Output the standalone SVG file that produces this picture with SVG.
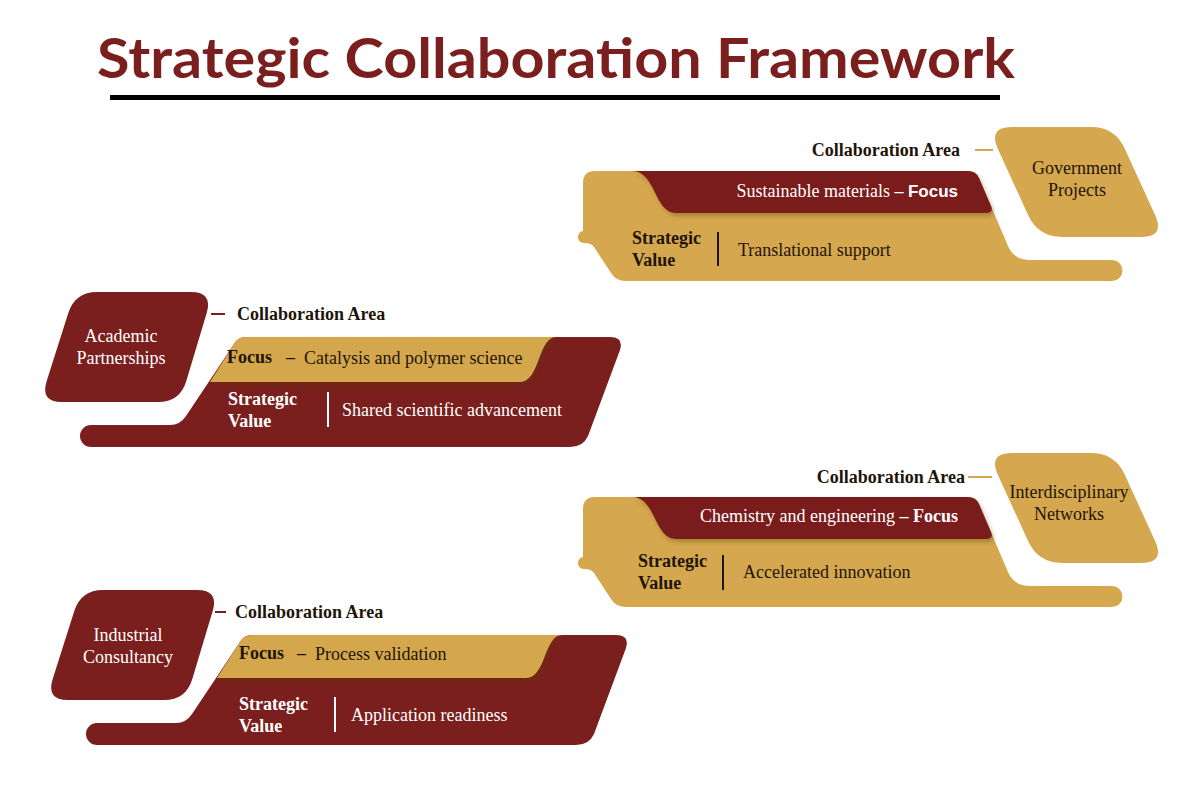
<svg xmlns="http://www.w3.org/2000/svg" width="1200" height="800" viewBox="0 0 1200 800">
<defs>
<style>
.red{fill:#7A1F1D}
.gold{fill:#D5A74E}
.t{font-family:"Liberation Serif","Times New Roman",serif;font-size:18px}
.b{font-weight:bold}
.w{fill:#FFFFFF}
.k{fill:#1E1408}
.ctr{text-anchor:middle}
.end{text-anchor:end}
.sans{font-family:"Liberation Sans",Arial,sans-serif;font-weight:bold;font-size:17px}
.conn{stroke-width:2;fill:none}
</style>
<filter id="sh" x="-5%" y="-20%" width="110%" height="150%">
<feDropShadow dx="2" dy="3" stdDeviation="2" flood-color="#5a3a10" flood-opacity="0.35"/>
</filter>
</defs>
<rect width="1200" height="800" fill="#FFFFFF"/>

<g id="title">
<text x="97" y="78" font-family="Lato, 'Liberation Sans', sans-serif" font-weight="bold" font-size="56" textLength="918" lengthAdjust="spacingAndGlyphs" fill="#7B1F1E">Strategic Collaboration Framework</text>
<rect x="110" y="95" width="890" height="5" fill="#000000"/>
</g>

<g id="connectors">
<line x1="975" y1="150" x2="993" y2="150" stroke="#D5A74E" class="conn"/>
<line x1="211" y1="314" x2="225" y2="314" stroke="#7A1F1D" class="conn"/>
<line x1="968" y1="477" x2="992" y2="477" stroke="#D5A74E" class="conn"/>
<line x1="215" y1="612" x2="226" y2="612" stroke="#7A1F1D" class="conn"/>
</g>

<!-- Government Projects -->
<g id="node-government">
<path class="gold" d="M1012,127 L1091,127 Q1115,127 1124.9,148.9 L1155.1,215.1 Q1165,237 1141,237 L1062,237 Q1038,237 1028.1,215.1 L997.9,148.9 Q988,127 1012,127 Z"/>
<text class="t k ctr" x="1077" y="174">Government</text>
<text class="t k ctr" x="1077" y="196">Projects</text>
</g>
<g id="panel-government">
<text class="t b k end" x="960" y="156">Collaboration Area</text>
<path class="gold" d="M583,183 Q583,171 595,171 L968,171 Q976,171 979,178 L1008,246 Q1014,260 1030,260 L1112,260 A10.5,10.5 0 0 1 1112,281 L626,281 Q616,281 611,273 L594,247 Q591,243 585,243 A6,6 0 1 1 583,231 Z"/>
<path class="red" filter="url(#sh)" d="M632,171 L968,171 Q976,171 979,178 L991,206 Q994,213 986,213 L676,213 C654,213 656,171 632,171 Z"/>
<text class="t w end" x="958" y="197">Sustainable materials <tspan class="b">–</tspan> <tspan class="sans">Focus</tspan></text>
<text class="t b k" x="632" y="244">Strategic</text>
<text class="t b k" x="632" y="266">Value</text>
<line x1="718" y1="232" x2="718" y2="266" stroke="#1E1408" stroke-width="2"/>
<text class="t k" x="738" y="256">Translational support</text>
</g>

<!-- Academic Partnerships -->
<g id="node-academic">
<path class="red" d="M97,292 L191,292 Q213,292 206.7,313.1 L186.3,380.9 Q180,402 158,402 L62,402 Q40,402 46.7,381 L68.3,313 Q75,292 97,292 Z"/>
<text class="t w ctr" x="121" y="342">Academic</text>
<text class="t w ctr" x="121" y="364">Partnerships</text>
</g>
<g id="panel-academic">
<text class="t b k" x="237" y="320">Collaboration Area</text>
<path class="red" d="M246,337 L610,337 Q624,337 620,350 L588,436 Q583,447 570,447 L91,447 A11,11 0 0 1 91,425 L170,425 Q180,425 186,416 L234,344 Q238,337 246,337 Z"/>
<path class="gold" filter="url(#sh)" d="M246,337 L556,337 C538,337 540,382 520,382 L210,382 L234,344 Q238,337 246,337 Z"/>
<text class="t b k" x="227" y="363">Focus</text>
<text class="t b k" x="286" y="363">–</text>
<text class="t k" x="304" y="364">Catalysis and polymer science</text>
<text class="t b w" x="228" y="405">Strategic</text>
<text class="t b w" x="228" y="427">Value</text>
<line x1="328" y1="392" x2="328" y2="427" stroke="#FFFFFF" stroke-width="2"/>
<text class="t w" x="342" y="416">Shared scientific advancement</text>
</g>

<!-- Interdisciplinary Networks -->
<g id="node-interdisciplinary">
<path class="gold" transform="translate(0,326)" d="M1012,127 L1091,127 Q1115,127 1124.9,148.9 L1155.1,215.1 Q1165,237 1141,237 L1062,237 Q1038,237 1028.1,215.1 L997.9,148.9 Q988,127 1012,127 Z"/>
<text class="t k ctr" x="1069" y="498">Interdisciplinary</text>
<text class="t k ctr" x="1069" y="520">Networks</text>
</g>
<g id="panel-interdisciplinary">
<text class="t b k end" x="965" y="483">Collaboration Area</text>
<g transform="translate(0,326)">
<path class="gold" d="M583,183 Q583,171 595,171 L968,171 Q976,171 979,178 L1008,246 Q1014,260 1030,260 L1112,260 A10.5,10.5 0 0 1 1112,281 L626,281 Q616,281 611,273 L594,247 Q591,243 585,243 A6,6 0 1 1 583,231 Z"/>
<path class="red" filter="url(#sh)" d="M632,171 L968,171 Q976,171 979,178 L991,206 Q994,213 986,213 L676,213 C654,213 656,171 632,171 Z"/>
</g>
<text class="t w end" x="958" y="522">Chemistry and engineering <tspan class="b">– Focus</tspan></text>
<text class="t b k" x="638" y="567">Strategic</text>
<text class="t b k" x="638" y="589">Value</text>
<line x1="723" y1="555" x2="723" y2="590" stroke="#1E1408" stroke-width="2"/>
<text class="t k" x="743" y="578">Accelerated innovation</text>
</g>

<!-- Industrial Consultancy -->
<g id="node-industrial">
<path class="red" transform="translate(6,298)" d="M97,292 L191,292 Q213,292 206.7,313.1 L186.3,380.9 Q180,402 158,402 L62,402 Q40,402 46.7,381 L68.3,313 Q75,292 97,292 Z"/>
<text class="t w ctr" x="128" y="641">Industrial</text>
<text class="t w ctr" x="128" y="663">Consultancy</text>
</g>
<g id="panel-industrial">
<text class="t b k" x="235" y="618">Collaboration Area</text>
<g transform="translate(6,298)">
<path class="red" d="M246,337 L610,337 Q624,337 620,350 L588,436 Q583,447 570,447 L91,447 A11,11 0 0 1 91,425 L170,425 Q180,425 186,416 L234,344 Q238,337 246,337 Z"/>
<path class="gold" filter="url(#sh)" d="M246,337 L556,337 C538,337 540,380 520,380 L211,380 L234,344 Q238,337 246,337 Z"/>
</g>
<text class="t b k" x="239" y="659">Focus</text>
<text class="t b k" x="297" y="659">–</text>
<text class="t k" x="315" y="660">Process validation</text>
<text class="t b w" x="239" y="710">Strategic</text>
<text class="t b w" x="239" y="732">Value</text>
<line x1="335" y1="697" x2="335" y2="732" stroke="#FFFFFF" stroke-width="2"/>
<text class="t w" x="351" y="721">Application readiness</text>
</g>
</svg>
